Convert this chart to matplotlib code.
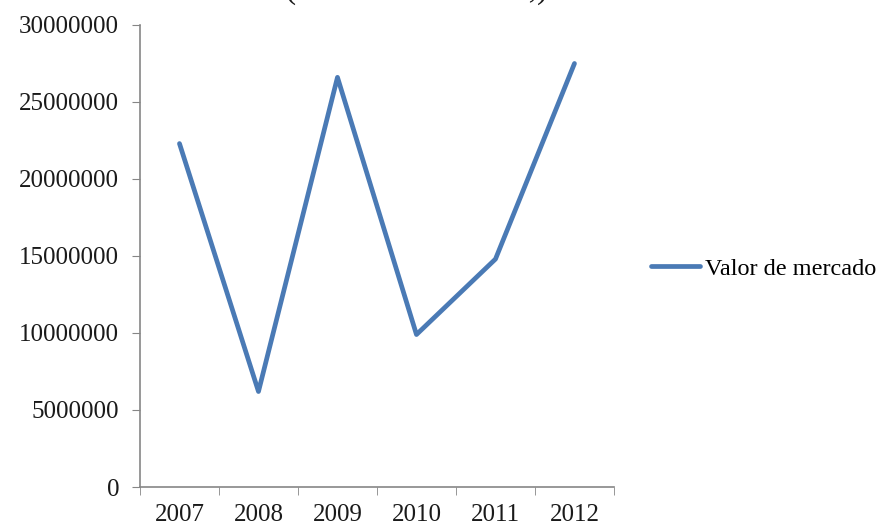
import matplotlib.pyplot as plt
from matplotlib.ticker import FixedLocator, NullFormatter

years = ["2007", "2008", "2009", "2010", "2011", "2012"]
valor_mercado = [22300000, 6200000, 26600000, 9900000, 14800000, 27500000]
yticks = [0, 5000000, 10000000, 15000000, 20000000, 25000000, 30000000]

plt.rcParams["font.family"] = ["Liberation Serif", "DejaVu Serif"]

fig = plt.figure(figsize=(8.95, 5.27), dpi=100)
ax = fig.add_axes([0.1564, 0.0759, 0.5296, 0.8767])

x = list(range(len(years)))
ax.plot(x, valor_mercado, color="#4A7AB5", lw=3.4, solid_capstyle="round",
        solid_joinstyle="round", label="Valor de mercado")

ax.set_xlim(-0.5, len(years) - 0.5)
ax.set_ylim(0, 30000000)
ax.set_yticks(yticks)
ax.set_yticklabels([str(v) for v in yticks])

# category labels centred, ticks on the boundaries
ax.set_xticks(x)
ax.set_xticklabels(years)
ax.tick_params(axis="x", which="major", length=0, pad=12)
ax.xaxis.set_minor_locator(FixedLocator([i - 0.5 for i in range(len(years) + 1)]))
ax.xaxis.set_minor_formatter(NullFormatter())
ax.tick_params(axis="x", which="minor", length=6, color="#868686", direction="out")
ax.tick_params(axis="y", length=6, color="#868686", direction="out", pad=9)
ax.tick_params(labelsize=18, labelcolor="#1a1a1a")

for s in ["top", "right"]:
    ax.spines[s].set_visible(False)
for s in ["left", "bottom"]:
    ax.spines[s].set_color("#868686")
    ax.spines[s].set_linewidth(1.2)

leg = fig.legend(loc="center left", bbox_to_anchor=(0.722, 0.49), frameon=False,
                 fontsize=17.5, handlelength=2.0, handletextpad=0.2,
                 borderaxespad=0, borderpad=0.2)

# title sits above the top edge, only its lower part shows
fig.text(0.465, 1.004, "(en miles de euros,)", ha="center", va="baseline",
         fontsize=24, color="#1a1a1a")

fig.savefig("out.png", dpi=100)
